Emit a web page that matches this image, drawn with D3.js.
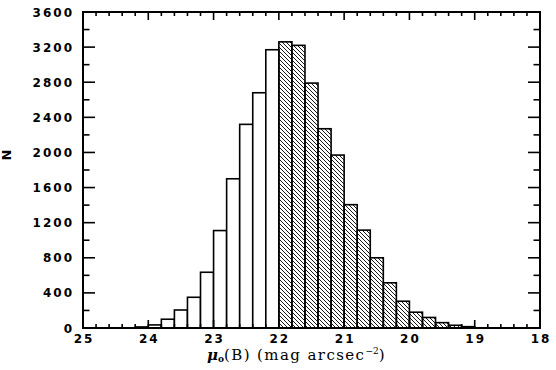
<!DOCTYPE html>
<html><head><meta charset="utf-8">
<script src="https://cdn.jsdelivr.net/npm/d3@7"></script>
<style>
body{margin:0;background:#fff;}
svg{display:block;}
.tl{font-family:"DejaVu Sans",sans-serif;font-weight:bold;font-size:12px;letter-spacing:2px;fill:#000;}
</style></head>
<body>
<svg id="c" width="556" height="370"></svg>
<script>
// Bins: faint edge of each 0.2-mag bin (mag arcsec^-2), counts N
const binFaintEdge = [24.2,24.0,23.8,23.6,23.4,23.2,23.0,22.8,22.6,22.4,22.2,22.0,21.8,21.6,21.4,21.2,21.0,20.8,20.6,20.4,20.2,20.0,19.8,19.6,19.4,19.2];
const counts =       [12,  35,  100, 205, 350, 635, 1110,1700,2320,2680,3170,3260,3220,2790,2270,1970,1405,1115,800, 515, 305, 180, 120, 61,  31,  15];
const binWidth = 0.2;
const hatchLimit = 22.0; // bins brighter than this are hatched
const xTickLabels = [25,24,23,22,21,20,19,18];
const yTickLabels = [0,400,800,1200,1600,2000,2400,2800,3200,3600];

const svg = d3.select("#c");
const L=83, R=540, T=12, B=328;
const x = d3.scaleLinear().domain([25,18]).range([L,R]);
const y = d3.scaleLinear().domain([0,3600]).range([B,T]);

const defs = svg.append("defs");
const pat = defs.append("pattern").attr("id","hatch").attr("patternUnits","userSpaceOnUse")
  .attr("width",4).attr("height",4);
pat.append("path").attr("d","M-1,-1L5,5M-1,3L1,5M3,-1L5,1").attr("stroke","#000").attr("stroke-width",0.9);

const data = binFaintEdge.map((m,i)=>({x0:m, x1:+(m-binWidth).toFixed(2), n:counts[i]}));

svg.append("g").selectAll("rect").data(data).join("rect")
  .attr("x",d=>x(d.x0)).attr("width",d=>x(d.x1)-x(d.x0))
  .attr("y",d=>y(d.n)).attr("height",d=>y(0)-y(d.n))
  .attr("fill",d=>d.x0<=hatchLimit+1e-9?"url(#hatch)":"#fff")
  .attr("stroke","#000").attr("stroke-width",1.6);

// ticks on all four sides (inward)
const g = svg.append("g").attr("stroke","#000").attr("stroke-width",1.6);
const xMinor = d3.range(0,36).map(i=>25-i*0.2).filter(v=>v>=17.99);
xMinor.forEach(v=>{
  const major = Math.abs(v-Math.round(v))<1e-6;
  const len = major?8:4;
  g.append("line").attr("x1",x(v)).attr("x2",x(v)).attr("y1",B).attr("y2",B-len);
  g.append("line").attr("x1",x(v)).attr("x2",x(v)).attr("y1",T).attr("y2",T+len);
});
d3.range(0,3601,200).forEach(v=>{
  const major = v%400===0;
  const len = major?12:6.5;
  g.append("line").attr("y1",y(v)).attr("y2",y(v)).attr("x1",L).attr("x2",L+len);
  g.append("line").attr("y1",y(v)).attr("y2",y(v)).attr("x1",R).attr("x2",R-len);
});
svg.append("rect").attr("x",L).attr("y",T).attr("width",R-L).attr("height",B-T)
  .attr("fill","none").attr("stroke","#000").attr("stroke-width",2);

// tick labels
svg.append("g").selectAll("text").data(xTickLabels).join("text").attr("class","tl")
  .attr("x",d=>x(d)+1).attr("y",343).attr("text-anchor","middle").text(d=>d);
svg.append("g").selectAll("text").data(yTickLabels).join("text").attr("class","tl")
  .attr("x",74).attr("y",d=>y(d)+4.5).attr("text-anchor","end").text(d=>d);

// axis titles
const xt = svg.append("text").attr("x",207).attr("y",360)
  .attr("font-family","DejaVu Serif,serif").attr("font-size",15).attr("fill","#000");
xt.append("tspan").attr("font-style","italic").attr("font-weight","bold").text("μ");
xt.append("tspan").attr("font-size",9).attr("font-weight","bold").attr("dy",2).text("o");
xt.append("tspan").attr("dy",-2).attr("letter-spacing","1.4px").text("(B) (mag arcsec");
xt.append("tspan").attr("font-size",9).attr("dy",-6).text("−2");
xt.append("tspan").attr("dy",6).text(")");

svg.append("text").attr("transform","translate(11,155) rotate(-90)")
  .attr("text-anchor","middle").attr("font-family","DejaVu Sans,sans-serif")
  .attr("font-weight","bold").attr("font-size",13).text("N");
</script>
</body></html>
